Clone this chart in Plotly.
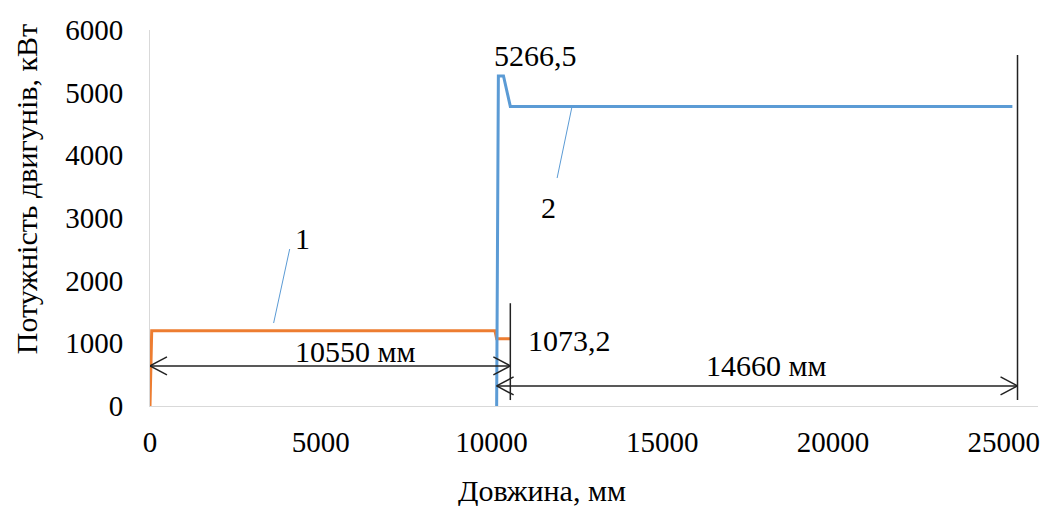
import plotly.graph_objects as go

# Series data
x1 = [0, 50, 10100, 10150, 10550]
y1 = [0, 1200, 1200, 1073.2, 1073.2]
x2 = [10150, 10200, 10350, 10550, 25250]
y2 = [0, 5266.5, 5266.5, 4780, 4780]

x_ticks = [0, 5000, 10000, 15000, 20000, 25000]
y_ticks = [0, 1000, 2000, 3000, 4000, 5000, 6000]

# Dimension values
dim1_start, dim1_end, dim1_y = 0, 10550, 640
dim2_start, dim2_end, dim2_y = 10150, 25400, 320
vline1 = (10550, 95, 1640)
vline2 = (25400, 95, 5600)

FONT = "Liberation Serif"
FS_TICK = 29
FS_TXT = 30
BLUE = "#5B9BD5"
ORANGE = "#ED7D31"

L, R, T, B = 150, 7, 30, 100
W, H = 1047, 506
XR = [0, 26000]
YR = [0, 6000]
px_x = (W - L - R) / (XR[1] - XR[0])
px_y = (H - T - B) / (YR[1] - YR[0])

fig = go.Figure()
fig.add_trace(go.Scatter(x=x1, y=y1, mode="lines", line=dict(color=ORANGE, width=3), showlegend=False))
fig.add_trace(go.Scatter(x=x2, y=y2, mode="lines", line=dict(color=BLUE, width=3), showlegend=False))

shapes = []
def seg(xa, ya, xb, yb, color="#222222", width=1.5):
    shapes.append(dict(type="line", xref="x", yref="y", x0=xa, y0=ya, x1=xb, y1=yb,
                       line=dict(color=color, width=width)))

def chevron(xt, yt, direction):
    dx = 17 / px_x * direction
    dy = 9 / px_y
    seg(xt, yt, xt - dx, yt + dy)
    seg(xt, yt, xt - dx, yt - dy)

# dimension 1
seg(dim1_start, dim1_y, dim1_end, dim1_y)
chevron(dim1_start, dim1_y, -1)
chevron(dim1_end, dim1_y, 1)
# dimension 2
seg(dim2_start, dim2_y, dim2_end, dim2_y)
chevron(dim2_start, dim2_y, -1)
chevron(dim2_end, dim2_y, 1)
# vertical lines
seg(vline1[0], vline1[1], vline1[0], vline1[2])
seg(vline2[0], vline2[1], vline2[0], vline2[2])
# leader lines
seg(4090, 2505, 3620, 1324, color=BLUE, width=1)
seg(12360, 4787, 11920, 3638, color=BLUE, width=1)

fig.update_layout(shapes=shapes)

def txt(x, y, s):
    fig.add_annotation(x=x, y=y, xref="x", yref="y", text=s, showarrow=False,
                       xanchor="center", yanchor="middle",
                       font=dict(family=FONT, size=FS_TXT, color="black"))

txt(11280, 5600, "5266,5")
txt(12270, 1053, "1073,2")
txt(5990, 862, "10550 мм")
txt(18030, 654, "14660 мм")
txt(4470, 2680, "1")
txt(11660, 3160, "2")

# axis titles as annotations
fig.add_annotation(x=(543 - L) / px_x, y=-(490 - (H - B)) / (H - T - B), xref="x", yref="paper",
                   text="Довжина, мм", xanchor="center", yanchor="middle",
                   showarrow=False, font=dict(family=FONT, size=FS_TXT, color="black"))
fig.add_annotation(x=-(L - 26) / (W - L - R), y=(H - B - 189) / px_y, xref="paper", yref="y",
                   text="Потужність двигунів, кВт", textangle=-90, xanchor="center", yanchor="middle",
                   showarrow=False, font=dict(family=FONT, size=FS_TXT, color="black"))

fig.update_xaxes(range=XR, tickvals=x_ticks, ticktext=[str(v) for v in x_ticks],
                 showgrid=False, zeroline=False, showline=True, linecolor="#D9D9D9", linewidth=1,
                 ticks="", ticklabelstandoff=10,
                 tickfont=dict(family=FONT, size=FS_TICK, color="black"))
fig.update_yaxes(range=YR, tickvals=y_ticks, ticktext=[str(v) for v in y_ticks],
                 showgrid=False, zeroline=False, showline=True, linecolor="#D9D9D9", linewidth=1,
                 ticks="", ticklabelstandoff=20,
                 tickfont=dict(family=FONT, size=FS_TICK, color="black"))

fig.update_layout(width=W, height=H, margin=dict(l=L, r=R, t=T, b=B),
                  plot_bgcolor="white", paper_bgcolor="white")

fig.write_html("out.html", config={"displayModeBar": False},
               post_script="document.body.style.margin='0';document.body.style.overflow='hidden';")
